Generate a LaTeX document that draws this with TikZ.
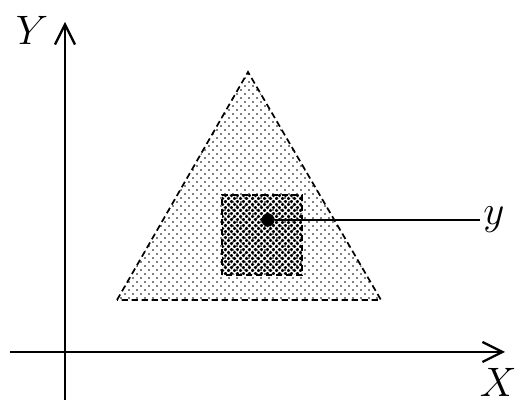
\documentclass[tikz,border=0pt]{standalone}
\usepackage{amssymb,amsmath}
\usetikzlibrary{patterns,arrows.meta}

\pgfdeclarepatternformonly{smalldots}{\pgfqpoint{0pt}{0pt}}{\pgfqpoint{2.8pt}{2.8pt}}{\pgfqpoint{2.8pt}{2.8pt}}{
    \pgfpathcircle{\pgfqpoint{0.7pt}{0.7pt}}{0.32pt}
    \pgfpathcircle{\pgfqpoint{2.1pt}{2.1pt}}{0.32pt}
    \pgfusepath{fill}}
\pgfdeclarepatternformonly{bigdots}{\pgfqpoint{0pt}{0pt}}{\pgfqpoint{2.1pt}{2.1pt}}{\pgfqpoint{2.1pt}{2.1pt}}{
    \pgfpathcircle{\pgfqpoint{0.525pt}{0.525pt}}{0.62pt}
    \pgfpathcircle{\pgfqpoint{1.575pt}{1.575pt}}{0.62pt}
    \pgfusepath{fill}}

\begin{document}
\begin{tikzpicture}[x=0.35pt,y=0.35pt,
        axis/.style={line width=0.8pt,-{Straight Barb[length=7pt,width=7pt]}},
        region/.style={line width=0.6pt,dash pattern=on 2.2pt off 1.3pt},
        point/.style={circle,fill=black,minimum size=4.6pt,inner sep=0pt},
        lbl/.style={font=\Large,inner sep=1pt}]

    \useasboundingbox (0,0) rectangle (522,404);

    % axes
    \coordinate (xs) at (10,52);
    \coordinate (xe) at (505,52);
    \coordinate (ys) at (65,4);
    \coordinate (ye) at (65,382);
    \draw[axis] (xs) -- (xe);
    \draw[axis] (ys) -- (ye);
    \node[lbl,anchor=east] (X) at (520,22) {$X$};
    \node[lbl] (Y) at (32,374) {$Y$};

    % triangle and square
    \draw[region,pattern=smalldots] (117,104) -- (248,332) -- (381,104) -- cycle;
    \draw[region,pattern=bigdots] (222,129) rectangle (302,209);

    \node[point] (p) at (268,184) {};
    \coordinate (pe) at (480,184);
    \draw[line width=0.7pt] (p) -- (pe);
    \node[lbl,anchor=west] (y) at (pe) {$y$};
\end{tikzpicture}
\end{document}
